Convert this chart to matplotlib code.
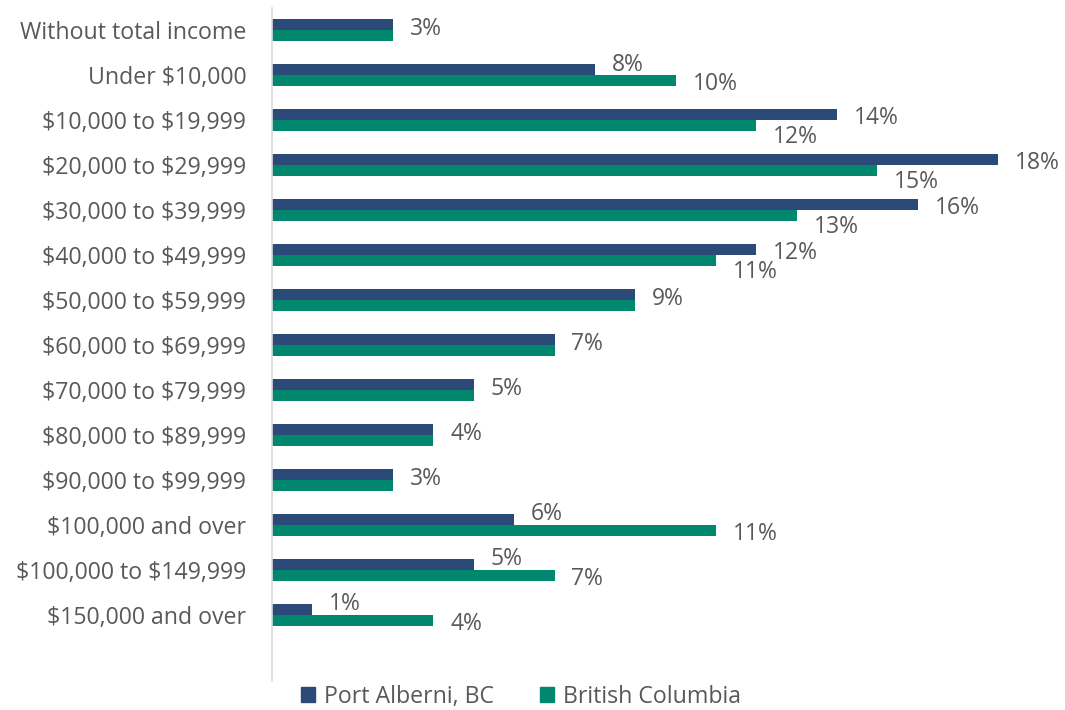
import matplotlib

matplotlib.use("Agg")
import matplotlib.pyplot as plt
from matplotlib.patches import Patch

plt.rcParams["font.family"] = ["Open Sans", "DejaVu Sans"]
plt.rcParams["text.parse_math"] = False

categories = [
    "Without total income",
    "Under $10,000",
    "$10,000 to $19,999",
    "$20,000 to $29,999",
    "$30,000 to $39,999",
    "$40,000 to $49,999",
    "$50,000 to $59,999",
    "$60,000 to $69,999",
    "$70,000 to $79,999",
    "$80,000 to $89,999",
    "$90,000 to $99,999",
    "$100,000 and over",
    "$100,000 to $149,999",
    "$150,000 and over",
]
port_alberni = [3, 8, 14, 18, 16, 12, 9, 7, 5, 4, 3, 6, 5, 1]
british_columbia = [3, 10, 12, 15, 13, 11, 9, 7, 5, 4, 3, 11, 7, 4]
series_names = ["Port Alberni, BC", "British Columbia"]

NAVY = "#2B4A78"
GREEN = "#00876E"
TEXT = "#595959"
FONT_SIZE = 16.7
VALUE_SIZE = 16.5

fig = plt.figure(figsize=(10.65, 7.1), dpi=100)
ax = fig.add_axes([0.2554, 0.041, 0.72, 0.9477])

bar_h = 0.245
positions = list(range(len(categories)))
ax.barh([p - bar_h / 2 for p in positions], port_alberni, height=bar_h, color=NAVY)
ax.barh([p + bar_h / 2 for p in positions], british_columbia, height=bar_h, color=GREEN)

# value labels: nudge apart so they don't collide
for p, top, bottom in zip(positions, port_alberni, british_columbia):
    dx = 0.42
    if top == bottom:
        ax.text(top + dx, p - 0.02, f"{top}%", va="center", ha="left",
                fontsize=VALUE_SIZE, color=TEXT)
        continue
    if top < bottom:
        top_y, bottom_y = p - 0.23, p + 0.2
    else:
        top_y, bottom_y = p - 0.05, p + 0.38
    ax.text(top + dx, top_y, f"{top}%", va="center", ha="left",
            fontsize=VALUE_SIZE, color=TEXT)
    ax.text(bottom + dx, bottom_y, f"{bottom}%", va="center", ha="left",
            fontsize=VALUE_SIZE, color=TEXT)

ax.set_xlim(0, 19)
ax.set_ylim(len(categories) + 0.47, -0.49)
ax.set_yticks(positions)
ax.set_yticklabels(categories, fontsize=FONT_SIZE, color=TEXT)
ax.tick_params(axis="y", length=0, pad=18.5)
ax.set_xticks([])
for side in ["top", "right", "bottom"]:
    ax.spines[side].set_visible(False)
ax.spines["left"].set_color("#D9D9D9")
ax.spines["left"].set_linewidth(1.2)

handles = [Patch(color=NAVY), Patch(color=GREEN)]
fig.legend(
    handles,
    series_names,
    loc="center",
    bbox_to_anchor=(521 / 1065, 1 - 697 / 710),
    ncol=2,
    frameon=False,
    fontsize=FONT_SIZE,
    labelcolor=TEXT,
    handlelength=0.6,
    handleheight=0.6,
    handletextpad=0.4,
    columnspacing=2.0,
)

fig.savefig("out.png", dpi=100)
